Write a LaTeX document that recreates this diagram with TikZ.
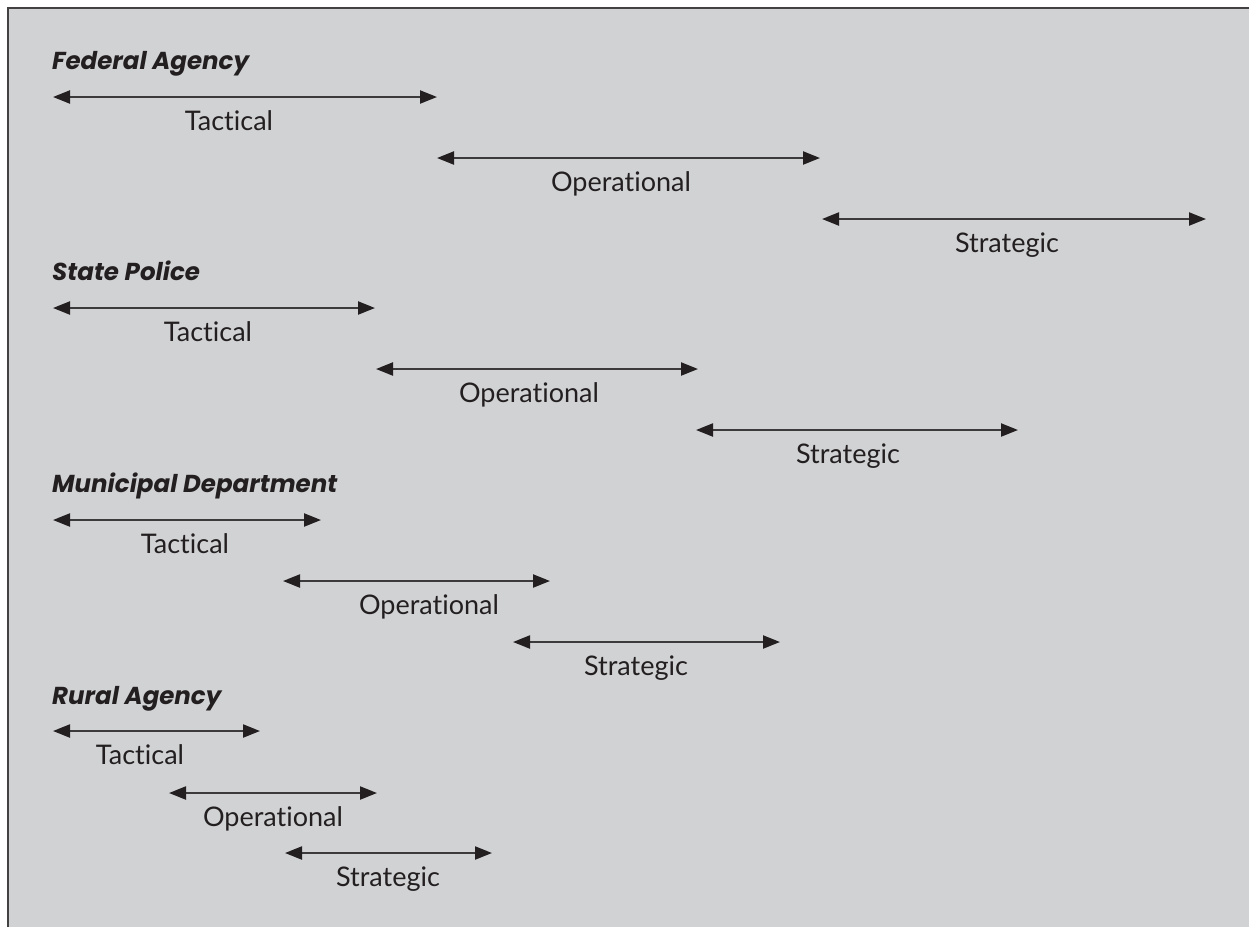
\documentclass[tikz,border=0pt]{standalone}
\usepackage{fontspec}
\setmainfont{Lato}[Ligatures={NoCommon}]
\newfontfamily\headfont{Poppins}[UprightFont=*-Bold, ItalicFont=*-BoldItalic]
\usetikzlibrary{arrows.meta}
\definecolor{bg}{HTML}{D1D2D4}
\definecolor{ink}{HTML}{231F20}
\tikzset{
  span/.style={draw=ink!88, line width=2.2pt, {Triangle[length=17pt,width=13pt,color=ink]}-{Triangle[length=17pt,width=13pt,color=ink]}},
  lab/.style={font=\fontsize{27}{32}\selectfont, text=ink, inner sep=0pt, anchor=base},
  head/.style={font=\headfont\fontsize{24.5}{29}\selectfont\itshape, text=ink, inner sep=0pt, anchor=base west},
}
\begin{document}
\begin{tikzpicture}[x=1pt,y=-1pt]
\useasboundingbox (0,0) rectangle (1249,927);
\fill[bg] (8,8) rectangle (1249,927);
\draw[ink!85, line width=2pt] (8,927) -- (8,8) -- (1249,8);
% Federal
\node[head] (h1) at (52,69) {Federal Agency};
\coordinate (a1) at (53,97); \coordinate (b1) at (437,97);
\coordinate (a2) at (437,158); \coordinate (b2) at (820,158);
\coordinate (a3) at (822,219); \coordinate (b3) at (1206,219);
\draw[span] (a1) -- (b1); \node[lab] (t1) at (229,130) {Tactical};
\draw[span] (a2) -- (b2); \node[lab] (o1) at (621,191) {Operational};
\draw[span] (a3) -- (b3); \node[lab] (s1) at (1007,252) {Strategic};
% State
\node[head] (h2) at (52,280) {State Police};
\coordinate (c1) at (53,308); \coordinate (d1) at (375,308);
\coordinate (c2) at (376,369); \coordinate (d2) at (698,369);
\coordinate (c3) at (696,430); \coordinate (d3) at (1018,430);
\draw[span] (c1) -- (d1); \node[lab] (t2) at (208,341) {Tactical};
\draw[span] (c2) -- (d2); \node[lab] (o2) at (529,402) {Operational};
\draw[span] (c3) -- (d3); \node[lab] (s2) at (848,463) {Strategic};
% Municipal
\node[head] (h3) at (52,492) {Municipal Department};
\coordinate (e1) at (53,520); \coordinate (f1) at (321,520);
\coordinate (e2) at (283,581); \coordinate (f2) at (550,581);
\coordinate (e3) at (513,642); \coordinate (f3) at (780,642);
\draw[span] (e1) -- (f1); \node[lab] (t3) at (185,553) {Tactical};
\draw[span] (e2) -- (f2); \node[lab] (o3) at (429,614) {Operational};
\draw[span] (e3) -- (f3); \node[lab] (s3) at (636,675) {Strategic};
% Rural
\node[head] (h4) at (52,704) {Rural Agency};
\coordinate (g1) at (53,731); \coordinate (k1) at (260,731);
\coordinate (g2) at (169,793); \coordinate (k2) at (377,793);
\coordinate (g3) at (285,853); \coordinate (k3) at (492,853);
\draw[span] (g1) -- (k1); \node[lab] (t4) at (140,764) {Tactical};
\draw[span] (g2) -- (k2); \node[lab] (o4) at (273,826) {Operational};
\draw[span] (g3) -- (k3); \node[lab] (s4) at (388,886) {Strategic};
\end{tikzpicture}
\end{document}
